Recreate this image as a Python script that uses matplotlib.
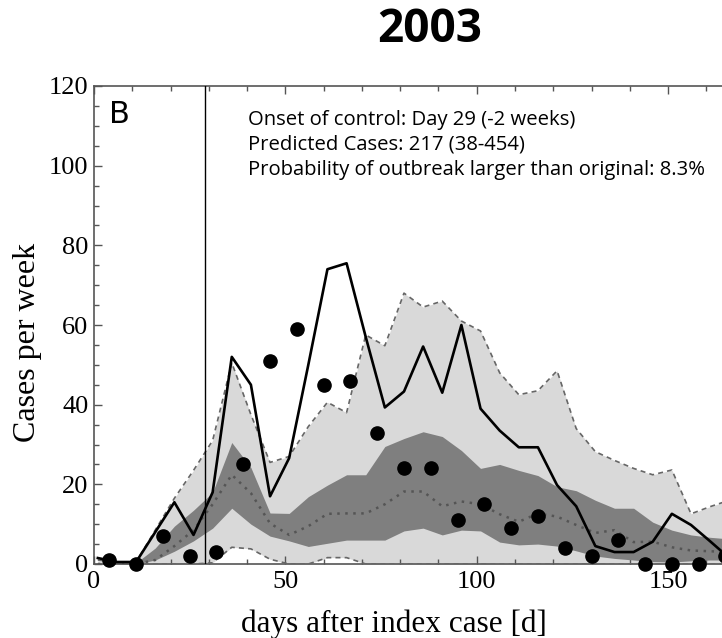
import numpy as np
import matplotlib.pyplot as plt
from matplotlib.ticker import MultipleLocator

# model grid (days after index case), 5-day steps
days = [1, 6, 11, 16, 21, 26, 31, 36, 41, 46, 51, 56, 61, 66, 71, 76, 81,
        86, 91, 96, 101, 106, 111, 116, 121, 126, 131, 136, 141, 146, 151,
        156, 161, 166]

# outer (light) band, dashed edges
hi95 = [1.0, 0.5, 0.5, 8.5, 16.5, 23.5, 31, 50.5, 37.5, 25.5, 27, 34.5,
        40.6, 38, 57.5, 54.8, 68, 64.5, 66, 61, 58.5, 48, 42.5, 43.5, 48.5,
        34, 28.2, 26, 24, 22.4, 23.6, 12.6, 14.4, 16]
lo95 = [0, 0, 0, 0, 0, 0, 0.3, 4.2, 3.8, 1.2, 0, 0, 1.6, 1.6, 0, 0, 0,
        0, 0, 0, 0, 0, 0, 0, 0, 0, 0, 0, 0, 0, 0, 0, 0, 0]
# inner (dark) band
hi50 = [0, 0, 0.3, 4, 9.5, 13.5, 18, 30.5, 24.2, 12.8, 12.7, 16.9, 19.8,
        22.4, 22.4, 29.5, 31.5, 33.2, 32, 28.5, 24, 25, 23.5, 22.2, 19.4,
        18.4, 16, 14, 14, 10.5, 8.5, 7.3, 6.7, 6.3]
lo50 = [0, 0, 0, 1, 3.2, 5.8, 9, 14, 10, 7, 5.8, 4.4, 5.2, 6, 6, 6, 8.3,
        9, 7.3, 8.5, 8.3, 5.5, 4.8, 5, 4.5, 3.3, 2, 1.4, 1, 0.6, 0.5, 0.8,
        1, 1]
median = [0, 0, 0, 1, 4.5, 8.5, 15, 22.4, 17.8, 10.2, 7.3, 9.5, 12.6, 12.7,
          12.7, 15, 18.2, 18.2, 14.5, 15.7, 15, 12.5, 10.6, 12.7, 11.9, 9.8,
          7.8, 8.5, 5.5, 5.6, 4.2, 3.4, 3.2, 3]

# original outbreak (solid line)
orig = [1.5, 0.5, 0.5, 8, 15.5, 7.3, 18, 52, 45, 17, 26.6, 50, 74, 75.5,
        57, 39.3, 43.3, 54.6, 43, 60, 39, 33.5, 29.3, 29.3, 19.8, 14.5, 4.5,
        3, 3, 5.6, 12.6, 9.8, 5.7, 1.5]

# observed weekly cases (dots)
obs_days = [4, 11, 18, 25, 32, 39, 46, 53, 60, 67, 74, 81, 88, 95, 102,
            109, 116, 123, 130, 137, 144, 151, 158, 165]
obs_cases = [1, 0, 7, 2, 3, 25, 51, 59, 45, 46, 33, 24, 24, 11, 15, 9, 12,
             4, 2, 6, 0, 0, 0, 2]

onset = 29
info = ["Onset of control: Day 29 (-2 weeks)",
        "Predicted Cases: 217 (38-454)",
        "Probability of outbreak larger than original: 8.3%"]

fig = plt.figure(figsize=(7.22, 6.38), dpi=100)
ax = fig.add_axes([94 / 722, 74 / 638, 628 / 722, 478 / 638])

ax.fill_between(days, lo95, hi95, color='#d9d9d9', lw=0, zorder=1)
ax.fill_between(days, lo50, hi50, color='#7f7f7f', lw=0, zorder=2)
ax.plot(days, hi95, color='#666666', ls=(0, (3, 2.5)), lw=1.2, zorder=3)
ax.plot(days, lo95, color='#666666', ls=(0, (3, 2.5)), lw=1.2, zorder=3)
ax.plot(days, median, color='#555555', ls=(0, (1, 2.2)), lw=1.8, zorder=3)
ax.plot(days, orig, color='black', lw=1.9, zorder=4)
ax.plot(obs_days, obs_cases, 'o', color='black', ms=9.5, zorder=5,
        clip_on=False)
ax.axvline(onset, color='black', lw=1, zorder=4)

ax.set_xlim(0, (722 - 94) / 3.827)
ax.set_ylim(0, 120)

ax.spines['right'].set_visible(False)
for s in ['left', 'top', 'bottom']:
    ax.spines[s].set_color('#555555')
    ax.spines[s].set_linewidth(1.2)

ax.xaxis.set_major_locator(MultipleLocator(50))
ax.xaxis.set_minor_locator(MultipleLocator(10))
ax.yaxis.set_major_locator(MultipleLocator(20))
ax.yaxis.set_minor_locator(MultipleLocator(5))
ax.tick_params(which='both', direction='in', top=True, right=False,
               color='#555555', width=1)
ax.tick_params(which='major', length=6, labelsize=19)
ax.tick_params(axis='x', which='major', pad=5)
ax.tick_params(axis='y', which='major', pad=4)
ax.tick_params(which='minor', length=3.5)
for lab in ax.get_xticklabels() + ax.get_yticklabels():
    lab.set_family('Liberation Serif')

ax.set_xlabel('days after index case [d]', family='Liberation Serif',
              fontsize=22.5)
ax.xaxis.set_label_coords(0.477, -0.096)
ax.set_ylabel('Cases per week', family='Liberation Serif', fontsize=23)
ax.yaxis.set_label_coords(-0.083, 0.464)

ax.text(3.8, 112.8, 'B', family='DejaVu Sans', fontsize=22, va='center',
        ha='left')
for i, line in enumerate(info):
    ax.text(40.2, 111.5 - 6.3 * i, line, family='Open Sans', fontsize=14.6,
            va='center', ha='left')

fig.text(430 / 722, 1 - 30 / 638, '2003', family='Open Sans',
         fontweight='bold', fontsize=33, ha='center', va='center')

fig.savefig('out.png', dpi=100)
